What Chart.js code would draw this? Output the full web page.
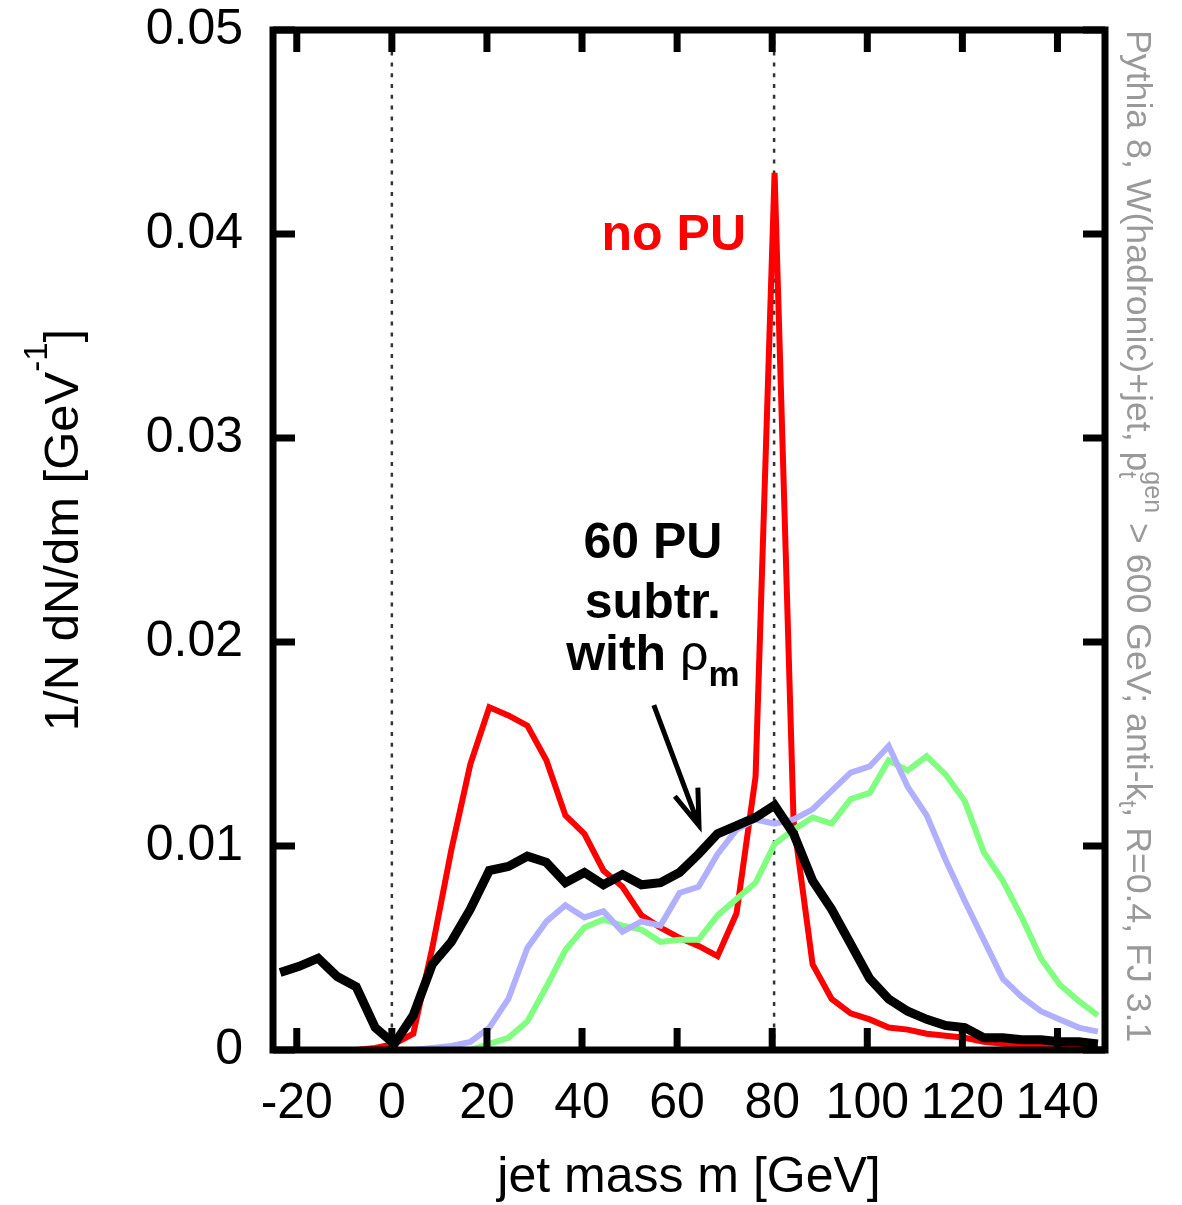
<!DOCTYPE html>
<html>
<head>
<meta charset="utf-8">
<script src="https://cdn.jsdelivr.net/npm/chart.js@4.4.1/dist/chart.umd.min.js"></script>
<style>
  html, body { margin: 0; padding: 0; background: #fff; }
  #wrap { width: 1182px; height: 1205px; }
</style>
</head>
<body>
<div id="wrap"><canvas id="massChart" width="1182" height="1205"></canvas></div>
<script>
// bin centres of the jet mass histogram [GeV]
const massBins = [-23.5, -19.5, -15.5, -11.5, -7.5, -3.5, 0.5, 4.5, 8.5, 12.5, 16.5, 20.5, 24.5, 28.5, 32.5,
    36.5, 40.5, 44.5, 48.5, 52.5, 56.5, 60.5, 64.5, 68.5, 72.5, 76.5, 80.5, 84.5, 88.5, 92.5, 96.5, 100.5,
    104.5, 108.5, 112.5, 116.5, 120.5, 124.5, 128.5, 132.5, 136.5, 140.5, 144.5, 148.5];

// 1/N dN/dm for each curve
const noPU = [0, 0, 0, 0, 0, 0.0001, 0.0003, 0.0008, 0.0050, 0.0098, 0.0140, 0.0168, 0.0164, 0.0159, 0.0142,
    0.0115, 0.0106, 0.0088, 0.0080, 0.0066, 0.0060, 0.0055, 0.0051, 0.0046, 0.0067, 0.0134, 0.0430, 0.0112,
    0.0042, 0.0025, 0.0018, 0.0015, 0.0011, 0.0010, 0.0008, 0.0007, 0.0006, 0.0004, 0.0003, 0.0002, 0.0002,
    0.0001, 0.0001, 0.0001];
const pu60Blue = [0, 0, 0, 0, 0, 0, 0, 0, 0.0001, 0.0002, 0.0004, 0.0011, 0.0025, 0.0050, 0.0063, 0.0071,
    0.0065, 0.0068, 0.0058, 0.0063, 0.0061, 0.0077, 0.0080, 0.0096, 0.0108, 0.0113, 0.0111, 0.0113, 0.0118,
    0.0127, 0.0136, 0.0139, 0.0149, 0.0129, 0.0115, 0.0093, 0.0073, 0.0054, 0.0035, 0.0026, 0.0019, 0.0015,
    0.0011, 0.0009];
const pu60Green = [0, 0, 0, 0, 0, 0, 0, 0, 0, 0, 0, 0.0003, 0.0006, 0.0014, 0.0031, 0.0049, 0.0060, 0.0064,
    0.0061, 0.0059, 0.0053, 0.0054, 0.0054, 0.0066, 0.0074, 0.0082, 0.0101, 0.0108, 0.0114, 0.0111, 0.0123,
    0.0126, 0.0142, 0.0137, 0.0144, 0.0135, 0.0122, 0.0097, 0.0083, 0.0065, 0.0045, 0.0032, 0.0024, 0.0017];
const pu60RhoM = [0.0038, 0.0041, 0.0045, 0.0036, 0.0031, 0.0011, 0.0003, 0.0017, 0.0042, 0.0053, 0.0069,
    0.0088, 0.0090, 0.0095, 0.0092, 0.0082, 0.0087, 0.0081, 0.0086, 0.0081, 0.0082, 0.0087, 0.0096, 0.0106,
    0.0110, 0.0114, 0.0120, 0.0106, 0.0083, 0.0069, 0.0052, 0.0035, 0.0025, 0.0019, 0.0015, 0.0012, 0.0011,
    0.0006, 0.0006, 0.0005, 0.0005, 0.0004, 0.0004, 0.0003];

const xTicks = [-20, 0, 20, 40, 60, 80, 100, 120, 140];
const yTicks = [0, 0.01, 0.02, 0.03, 0.04, 0.05];
const markerLines = [0, 80.4];   // dotted verticals: m = 0 and m_W

const FONT = '"Liberation Sans", Arial, Helvetica, sans-serif';

function toPoints(arr) {
    return massBins.map(function (m, i) { return { x: m, y: arr[i] }; });
}

// draws a line of text made of pieces (sub/superscripts)
function drawRich(ctx, parts, x, y, align) {
    var cursor = 0, prevStart = 0, placed = [];
    parts.forEach(function (p) {
        ctx.font = p.font;
        var w = ctx.measureText(p.text).width;
        var start = p.overlap ? prevStart : cursor;
        placed.push({ p: p, start: start });
        cursor = Math.max(cursor, start + w);
        prevStart = start;
    });
    var off = align === 'center' ? -cursor / 2 : 0;
    ctx.textAlign = 'left';
    ctx.textBaseline = 'alphabetic';
    placed.forEach(function (q) {
        ctx.font = q.p.font;
        ctx.fillText(q.p.text, x + off + q.start, y + (q.p.dy || 0));
    });
}

const decorPlugin = {
    id: 'decor',
    beforeDatasetsDraw: function (chart) {
        var ctx = chart.ctx, a = chart.chartArea, sx = chart.scales.x;
        ctx.save();
        ctx.strokeStyle = '#333';
        ctx.lineWidth = 2.5;
        ctx.setLineDash([4, 6.8]);
        markerLines.forEach(function (m) {
            var x = sx.getPixelForValue(m);
            ctx.beginPath();
            ctx.moveTo(x, a.top);
            ctx.lineTo(x, a.bottom);
            ctx.stroke();
        });
        ctx.restore();
    },
    afterDatasetsDraw: function (chart) {
        var ctx = chart.ctx, a = chart.chartArea, sx = chart.scales.x, sy = chart.scales.y;
        ctx.save();

        // frame and inward ticks
        ctx.strokeStyle = '#000';
        ctx.lineWidth = 7;
        ctx.strokeRect(a.left, a.top, a.right - a.left, a.bottom - a.top);
        ctx.beginPath();
        xTicks.forEach(function (v) {
            var x = sx.getPixelForValue(v);
            ctx.moveTo(x, a.bottom); ctx.lineTo(x, a.bottom - 22);
            ctx.moveTo(x, a.top); ctx.lineTo(x, a.top + 22);
        });
        yTicks.forEach(function (v) {
            var y = sy.getPixelForValue(v);
            ctx.moveTo(a.left, y); ctx.lineTo(a.left + 22, y);
            ctx.moveTo(a.right, y); ctx.lineTo(a.right - 22, y);
        });
        ctx.stroke();

        // annotations
        ctx.fillStyle = '#ff0000';
        drawRich(ctx, [{ text: 'no PU', font: 'bold 50px ' + FONT }],
            sx.getPixelForValue(59.3), sy.getPixelForValue(0.0392), 'center');

        ctx.fillStyle = '#000';
        var cx = sx.getPixelForValue(54.9);
        drawRich(ctx, [{ text: '60 PU', font: 'bold 50px ' + FONT }], cx, sy.getPixelForValue(0.02412), 'center');
        drawRich(ctx, [{ text: 'subtr.', font: 'bold 50px ' + FONT }], cx, sy.getPixelForValue(0.02116), 'center');
        drawRich(ctx, [
            { text: 'with ', font: 'bold 50px ' + FONT },
            { text: '\u03c1', font: '50px ' + FONT },
            { text: 'm', font: 'bold 35px ' + FONT, dy: 16 }
        ], cx, sy.getPixelForValue(0.01863), 'center');

        // arrow pointing at the black curve
        var x0 = sx.getPixelForValue(55.1), y0 = sy.getPixelForValue(0.0169);
        var x1 = sx.getPixelForValue(64.6), y1 = sy.getPixelForValue(0.0110);
        var ang = Math.atan2(y1 - y0, x1 - x0), head = 38, spread = 0.33;
        ctx.lineWidth = 5;
        ctx.lineCap = 'butt';
        ctx.beginPath();
        ctx.moveTo(x0, y0); ctx.lineTo(x1, y1);
        ctx.moveTo(x1 - head * Math.cos(ang - spread), y1 - head * Math.sin(ang - spread));
        ctx.lineTo(x1, y1);
        ctx.lineTo(x1 - head * Math.cos(ang + spread), y1 - head * Math.sin(ang + spread));
        ctx.stroke();

        // axis titles
        drawRich(ctx, [{ text: 'jet mass m [GeV]', font: '50px ' + FONT }], (a.left + a.right) / 2, 1192, 'center');

        ctx.save();
        ctx.translate(78, 530);
        ctx.rotate(-Math.PI / 2);
        drawRich(ctx, [
            { text: '1/N dN/dm [GeV', font: '49px ' + FONT },
            { text: '-1', font: '33px ' + FONT, dy: -31 },
            { text: ']', font: '49px ' + FONT }
        ], 0, 0, 'center');
        ctx.restore();

        // generator info on the right
        ctx.save();
        ctx.fillStyle = '#999';
        ctx.translate(1127, 30);
        ctx.rotate(Math.PI / 2);
        drawRich(ctx, [
            { text: 'Pythia 8, W(hadronic)+jet, p', font: '35.7px ' + FONT },
            { text: 't', font: '25px ' + FONT, dy: 8 },
            { text: 'gen', font: '25px ' + FONT, dy: -18, overlap: true },
            { text: ' > 600 GeV; anti-k', font: '35.7px ' + FONT },
            { text: 't', font: '25px ' + FONT, dy: 8 },
            { text: ', R=0.4, FJ 3.1', font: '35.7px ' + FONT }
        ], 0, 0, 'left');
        ctx.restore();

        ctx.restore();
    }
};

function makeSet(label, arr, color, width) {
    return {
        label: label,
        data: toPoints(arr),
        borderColor: color,
        backgroundColor: color,
        borderWidth: width,
        pointRadius: 0,
        tension: 0,
        fill: false,
        clip: 0
    };
}

var ctx = document.getElementById('massChart').getContext('2d');
var chart = new Chart(ctx, {
    type: 'line',
    data: {
        // first dataset is drawn on top
        datasets: [
            makeSet('60 PU subtr. with rho_m', pu60RhoM, '#000000', 9),
            makeSet('60 PU (blue)', pu60Blue, '#b0b0ff', 6),
            makeSet('60 PU (green)', pu60Green, '#80ff80', 6),
            makeSet('no PU', noPU, '#ff0000', 6)
        ]
    },
    options: {
        responsive: false,
        devicePixelRatio: 1,
        animation: false,
        layout: { padding: { top: 30, right: 77, left: 0, bottom: 0 } },
        plugins: {
            legend: { display: false },
            tooltip: { enabled: false }
        },
        scales: {
            x: {
                type: 'linear',
                min: -25,
                max: 150,
                grid: { display: false },
                border: { display: false },
                afterBuildTicks: function (scale) {
                    scale.ticks = xTicks.map(function (v) { return { value: v }; });
                },
                afterFit: function (scale) {
                    scale.height = 155;
                    scale.paddingLeft = 0;
                    scale.paddingRight = 0;
                },
                ticks: {
                    autoSkip: false,
                    maxRotation: 0,
                    padding: 16,
                    color: '#000',
                    font: { family: FONT, size: 50 }
                }
            },
            y: {
                min: 0,
                max: 0.05,
                grid: { display: false },
                border: { display: false },
                afterBuildTicks: function (scale) {
                    scale.ticks = yTicks.map(function (v) { return { value: v }; });
                },
                afterFit: function (scale) {
                    scale.width = 273;
                    scale.paddingTop = 0;
                    scale.paddingBottom = 0;
                },
                ticks: {
                    padding: 22,
                    color: '#000',
                    font: { family: FONT, size: 50 },
                    callback: function (v) { return v === 0 ? '0' : v.toFixed(2); }
                }
            }
        }
    },
    plugins: [decorPlugin]
});
</script>
</body>
</html>
